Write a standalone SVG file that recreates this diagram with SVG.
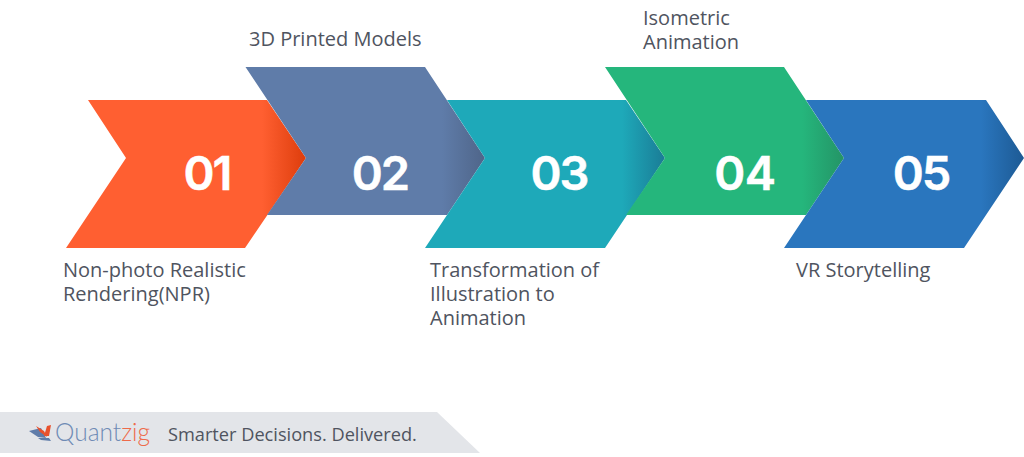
<svg xmlns="http://www.w3.org/2000/svg" width="1024" height="457" viewBox="0 0 1024 457">
<style>
.num{font-family:"Inter","Liberation Sans",sans-serif;font-weight:600;font-size:47px;fill:#fff;stroke:#fff;stroke-width:.5px;text-anchor:middle;letter-spacing:-2px}
.wide{letter-spacing:-.5px}
.lbl{font-family:"Open Sans","Liberation Sans",sans-serif;font-size:20px;fill:#4f5460}
</style>
<defs>
<linearGradient id="g1" gradientUnits="userSpaceOnUse" x1="262" y1="0" x2="306" y2="0"><stop offset="0" stop-color="#ff5f31"/><stop offset="1" stop-color="#dd3d0c"/></linearGradient>
<linearGradient id="g2" gradientUnits="userSpaceOnUse" x1="442" y1="0" x2="485" y2="0"><stop offset="0" stop-color="#5f7ca9"/><stop offset="1" stop-color="#4f6589"/></linearGradient>
<linearGradient id="g3" gradientUnits="userSpaceOnUse" x1="622" y1="0" x2="665" y2="0"><stop offset="0" stop-color="#1ea9b9"/><stop offset="1" stop-color="#1a7c96"/></linearGradient>
<linearGradient id="g4" gradientUnits="userSpaceOnUse" x1="802" y1="0" x2="844" y2="0"><stop offset="0" stop-color="#25b67c"/><stop offset="1" stop-color="#249466"/></linearGradient>
<linearGradient id="g5" gradientUnits="userSpaceOnUse" x1="981" y1="0" x2="1024" y2="0"><stop offset="0" stop-color="#2a76be"/><stop offset="1" stop-color="#1d5a94"/></linearGradient>
</defs>
<g id="node-01"><polygon points="88,100 267,100 306,158 245,248 66,248 126,158" fill="url(#g1)"/><text class="num" x="207" y="190">01</text></g>
<g id="node-02"><polygon points="245.500,67 425,67 485,158 447,215 267,215 306,158" fill="url(#g2)"/><text class="num" x="380" y="190">02</text></g>
<g id="node-03"><polygon points="447,100 626,100 665,158 605,248 425,248 485,158" fill="url(#g3)"/><text class="num" x="559" y="190">03</text></g>
<g id="node-04"><polygon points="605,67 784,67 844,158 806,215 626,215 665,158" fill="url(#g4)"/><text class="num wide" x="745" y="190">04</text></g>
<g id="node-05"><polygon points="806,100 986,100 1024,158 964,248 784,248 844,158" fill="url(#g5)"/><text class="num" x="921" y="190">05</text></g>
<g id="labels">
<text class="lbl" x="249" y="46">3D Printed Models</text>
<text class="lbl"><tspan x="643" y="25">Isometric</tspan><tspan x="643" y="49">Animation</tspan></text>
<text class="lbl"><tspan x="63" y="277">Non-photo Realistic</tspan><tspan x="63" y="301">Rendering(NPR)</tspan></text>
<text class="lbl"><tspan x="430" y="277">Transformation of</tspan><tspan x="430" y="301">Illustration to</tspan><tspan x="430" y="325">Animation</tspan></text>
<text class="lbl" x="796" y="277">VR Storytelling</text>
</g>
<g id="footer">
<polygon points="0,412 437,412 480,453 0,453" fill="#e3e5e9"/>
<polygon points="29,431 41,428 46,438 38,437" fill="#5f7ca9"/>
<polygon points="36,426 44,431 47,437 40,432" fill="#e8512d"/>
<polygon points="44,436 47,426 51,425 49,436" fill="#e8512d"/>
<polygon points="38,438 49,438 51,441 41,440" fill="#5f7ca9"/>
<text x="55" y="441" font-family="Lato,'Liberation Sans',sans-serif" font-size="24.500" font-weight="300" fill="#6f8bb5">Quant<tspan fill="#ee6a4a">zig</tspan></text>
<text x="168" y="441" font-family="'Open Sans','Liberation Sans',sans-serif" font-size="18.200" fill="#4f5460">Smarter Decisions. Delivered.</text>
</g>
</svg>
